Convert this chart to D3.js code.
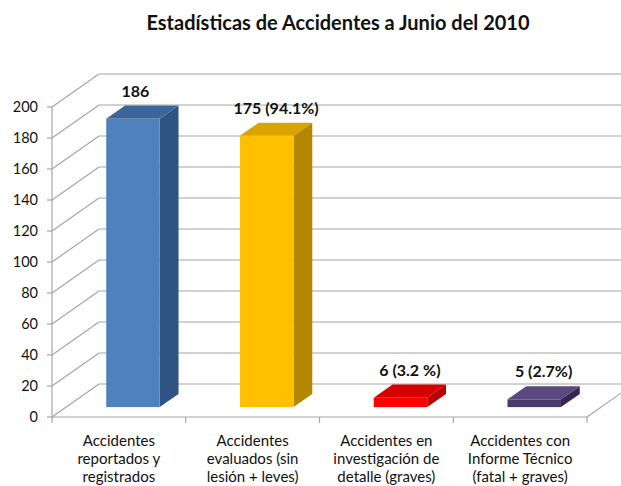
<!DOCTYPE html>
<html><head><meta charset="utf-8">
<script src="https://cdn.jsdelivr.net/npm/d3@7"></script>
<style>body{margin:0;background:#fff}svg{display:block}</style>
</head><body>
<svg id="c" width="621" height="486"></svg>
<script>
const categories = [
  ["Accidentes","reportados y","registrados"],
  ["Accidentes","evaluados (sin","lesión + leves)"],
  ["Accidentes en","investigación de","detalle (graves)"],
  ["Accidentes con","Informe Técnico","(fatal + graves)"]
];
const values = [186, 175, 6, 5];
const valueLabels = ["186", "175 (94.1%)", "6 (3.2 %)", "5 (2.7%)"];
const yTicks = [0,20,40,60,80,100,120,140,160,180,200];
const title = "Estadísticas de Accidentes a Junio del 2010";
const colors = [
  {front:"#4f81bd", side:"#2f5383", top:"#3c6699"},
  {front:"#ffc000", side:"#b38700", top:"#d9a300"},
  {front:"#ff0000", side:"#b80000", top:"#d60000"},
  {front:"#4b3a6b", side:"#342850", top:"#5b4880"}
];

(function(){
const svg = d3.select("#c");
const font = "Lato, 'Open Sans', sans-serif";
const pLeft = 52, pRight = 587, pBottom = 417, pTop = 107;
const depthX = 47, depthY = -33;
const y = d3.scaleLinear().domain([0,200]).range([pBottom, pTop]);
const x = d3.scaleBand().domain(d3.range(categories.length)).range([pLeft, pRight]).paddingInner(0.6).paddingOuter(0.3);
const step = x.step();
const grid = "#a6a6a6";

svg.append("text").attr("x", 338).attr("y", 30).attr("text-anchor","middle")
  .attr("font-family", font).attr("font-weight","bold").attr("font-size", 20).attr("fill","#111").text(title);

const g = svg.append("g");
yTicks.forEach(t => {
  const yf = y(t);
  g.append("line").attr("x1", pLeft).attr("y1", yf).attr("x2", pLeft+depthX).attr("y2", yf+depthY)
    .attr("stroke", grid).attr("stroke-width",1.2);
  g.append("line").attr("x1", pLeft+depthX).attr("y1", yf+depthY).attr("x2", pRight+depthX).attr("y2", yf+depthY)
    .attr("stroke", grid).attr("stroke-width",1.2);
  g.append("line").attr("x1", pLeft-5).attr("y1", yf).attr("x2", pLeft).attr("y2", yf)
    .attr("stroke", grid).attr("stroke-width",1.2);
  g.append("text").attr("x", 38).attr("y", yf+5).attr("text-anchor","end")
    .attr("font-family", font).attr("font-size", 14.5).attr("fill","#111").text(t);
});
g.append("line").attr("x1", pLeft).attr("y1", y(200)).attr("x2", pLeft).attr("y2", pBottom).attr("stroke", grid).attr("stroke-width",1.2);
g.append("line").attr("x1", pLeft).attr("y1", pBottom).attr("x2", pRight).attr("y2", pBottom).attr("stroke", grid).attr("stroke-width",1.2);
g.append("line").attr("x1", pRight).attr("y1", pBottom).attr("x2", pRight+depthX).attr("y2", pBottom+depthY).attr("stroke", grid).attr("stroke-width",1.2);
d3.range(categories.length+1).forEach(i => {
  const xt = pLeft + i*step;
  g.append("line").attr("x1", xt).attr("y1", pBottom).attr("x2", xt).attr("y2", pBottom+6).attr("stroke", grid).attr("stroke-width",1.2);
});

const d0 = 0.3, d1 = 0.7;
const fx = depthX*d0, fy = depthY*d0;
const sx = depthX*(d1-d0), sy = depthY*(d1-d0);
const w = x.bandwidth();
values.forEach((v,i) => {
  const x0 = x(i) + fx, x1 = x0 + w;
  const yb = y(0) + fy, yt = y(v) + fy;
  const c = colors[i];
  g.append("path").attr("d", `M${x1},${yt}L${x1+sx},${yt+sy}L${x1+sx},${yb+sy}L${x1},${yb}Z`).attr("fill", c.side);
  g.append("path").attr("d", `M${x0},${yt}L${x0+sx},${yt+sy}L${x1+sx},${yt+sy}L${x1},${yt}Z`).attr("fill", c.top);
  g.append("rect").attr("x", x0).attr("y", yt).attr("width", w).attr("height", yb-yt).attr("fill", c.front);
  g.append("text").attr("x", x0 + (w+sx)/2 - (i === 0 ? 7 : 0)).attr("y", yt + sy - 9).attr("text-anchor","middle")
    .attr("font-family", font).attr("font-weight","bold").attr("font-size", 16).attr("fill","#111").text(valueLabels[i]);
});

categories.forEach((lines,i) => {
  const cx = x(i) + w/2;
  lines.forEach((ln,j) => {
    g.append("text").attr("x", cx).attr("y", 446 + j*18).attr("text-anchor","middle")
      .attr("font-family", font).attr("font-size", 15).attr("fill","#111").text(ln);
  });
});
})();
</script>
</body></html>
